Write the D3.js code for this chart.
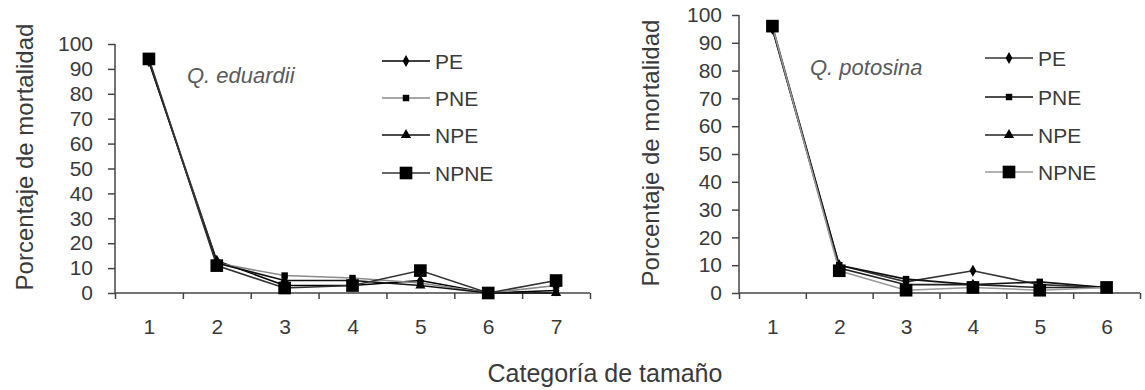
<!DOCTYPE html>
<html><head><meta charset="utf-8">
<script src="https://cdn.jsdelivr.net/npm/d3@7"></script>
<style>
body{margin:0;background:#fff;}
svg{display:block;font-family:"Liberation Sans",Arial,sans-serif;}
</style></head>
<body><svg id="c" width="1145" height="390"></svg>
<script>
// ---- data ----
const seriesNames = ["PE","PNE","NPE","NPNE"];
const catsEduardii = [1,2,3,4,5,6,7];
const eduPE   = [93, 13, 3, 3, 5, 0, 1];
const eduPNE  = [94, 12, 7, 6, 4, 0, 3];
const eduNPE  = [93, 12, 5, 5, 3, 0, 0];
const eduNPNE = [94, 11, 2, 3, 9, 0, 5];
const catsPotosina = [1,2,3,4,5,6];
const potPE   = [95, 10, 4, 8, 3, 2];
const potPNE  = [96, 10, 5, 3, 4, 2];
const potNPE  = [95, 9, 3, 3, 2, 2];
const potNPNE = [96, 8, 1, 2, 1, 2];
const yTicks = [0,10,20,30,40,50,60,70,80,90,100];
const yTitle = "Porcentaje de mortalidad";
const xTitle = "Categoría de tamaño";

const svg = d3.select("#c");
const txt = "#3a3a3a";

const markers = {
  PE:   {type: d3.symbolDiamond, size: 40},
  PNE:  {type: d3.symbolSquare, size: 42},
  NPE:  {type: d3.symbolTriangle, size: 45},
  NPNE: {type: d3.symbolSquare, size: 160}
};

function panel(cfg){
  const g = svg.append("g");
  const x = d3.scaleLinear().domain([0.5, cfg.cats.length + 0.5]).range([cfg.x0, cfg.x1]);
  const y = d3.scaleLinear().domain([0,100]).range([cfg.y0, cfg.y1]);

  // y axis
  const ya = g.append("g").attr("transform", `translate(${cfg.x0},0)`)
    .call(d3.axisLeft(y).tickValues(yTicks).tickSize(7).tickPadding(cfg.yPad));
  ya.select(".domain").attr("stroke","#444").attr("stroke-width",1.5).attr("d", `M0,${cfg.y0}V${cfg.y1}`);
  ya.selectAll(".tick line").attr("stroke","#444").attr("stroke-width",1.5);
  ya.selectAll("text").attr("fill",txt).style("font-size","21px");

  // x axis boundary ticks
  const bounds = d3.range(0, cfg.cats.length + 1).map(i => i + 0.5);
  const xb = g.append("g").attr("transform", `translate(0,${cfg.y0})`)
    .call(d3.axisBottom(x).tickValues(bounds).tickFormat("").tickSize(6));
  xb.select(".domain").attr("stroke","#444").attr("stroke-width",1.5).attr("d", `M${cfg.x0},0H${cfg.x1}`);
  xb.selectAll(".tick line").attr("stroke","#444").attr("stroke-width",1.5);
  // x labels
  const xl = g.append("g").attr("transform", `translate(0,${cfg.y0})`)
    .call(d3.axisBottom(x).tickValues(cfg.cats).tickFormat(d3.format("d")).tickSize(0).tickPadding(26));
  xl.select(".domain").remove();
  xl.selectAll("text").attr("fill",txt).style("font-size","21px");

  // y title
  g.append("text").attr("transform", `translate(${cfg.titleX},${cfg.titleY}) rotate(-90)`)
    .attr("text-anchor","middle").attr("dominant-baseline","central")
    .attr("fill",txt).style("font-size","24px").text(yTitle);

  // species label
  g.append("text").attr("x", cfg.labX).attr("y", cfg.labY).attr("dominant-baseline","central")
    .attr("fill","#5a5a5a").style("font-size","22px").style("font-style","italic").text(cfg.species);

  // series
  const line = d3.line().x((d,i) => x(cfg.cats[i])).y(d => y(d));
  seriesNames.forEach((name, si) => {
    const vals = cfg.data[si];
    g.append("path").datum(vals).attr("d", line).attr("fill","none")
      .attr("stroke", cfg.colors[si]).attr("stroke-width", 1.6);
  });
  seriesNames.forEach((name, si) => {
    const vals = cfg.data[si];
    const m = markers[name];
    g.selectAll(null).data(vals).enter().append("path")
      .attr("d", d3.symbol().type(m.type).size(m.size))
      .attr("transform", (d,i) => `translate(${x(cfg.cats[i])},${y(d)})`)
      .attr("fill","#000");
  });

  // legend
  const lg = g.append("g");
  seriesNames.forEach((name, si) => {
    const ly = cfg.legY[si];
    lg.append("line").attr("x1", cfg.legX).attr("x2", cfg.legX + 48).attr("y1", ly).attr("y2", ly)
      .attr("stroke", cfg.colors[si]).attr("stroke-width", 1.6);
    const m = markers[name];
    lg.append("path").attr("d", d3.symbol().type(m.type).size(m.size))
      .attr("transform", `translate(${cfg.legX + 24},${ly})`).attr("fill","#000");
    lg.append("text").attr("x", cfg.legX + 53).attr("y", ly).attr("dominant-baseline","central")
      .attr("fill",txt).style("font-size","21px").text(name);
  });
}

panel({
  cats: catsEduardii, data: [eduPE, eduPNE, eduNPE, eduNPNE],
  x0: 115, x1: 590, y0: 293, y1: 44, yPad: 15,
  titleX: 24, titleY: 157,
  species: "Q. eduardii", labX: 187, labY: 75,
  legX: 382, legY: [61, 98, 135, 173],
  colors: ["#000", "#8a8a8a", "#111", "#333"]
});
panel({
  cats: catsPotosina, data: [potPE, potPNE, potNPE, potNPNE],
  x0: 739, x1: 1140, y0: 293, y1: 15, yPad: 10,
  titleX: 650, titleY: 153,
  species: "Q. potosina", labX: 810, labY: 67,
  legX: 985, legY: [58, 97, 135, 172],
  colors: ["#333", "#111", "#222", "#999"]
});

svg.append("text").attr("x", 605).attr("y", 373).attr("text-anchor","middle").attr("dominant-baseline","central")
  .attr("fill",txt).style("font-size","25px").text(xTitle);
</script>
</body></html>
